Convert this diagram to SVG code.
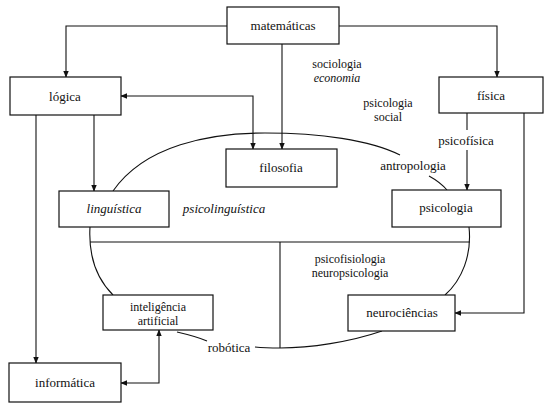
<svg xmlns="http://www.w3.org/2000/svg" width="544" height="403" viewBox="0 0 544 403">
<style>
.box{fill:#fff;stroke:#111;stroke-width:1.2}
.t{font-family:"Liberation Serif","Times New Roman","DejaVu Serif",serif;font-size:13px;fill:#111;text-anchor:middle}
.s{font-size:12px}
.i{font-style:italic}
.c{fill:none;stroke:#111;stroke-width:1.1}
</style>
<defs>
<marker id="ah" viewBox="0 0 10 10" refX="9" refY="5" markerWidth="7" markerHeight="7" markerUnits="userSpaceOnUse" orient="auto-start-reverse">
<path d="M0,1 L10,5 L0,9 Z" fill="#111"/>
</marker>
</defs>
<rect width="544" height="403" fill="#fff"/>
<g id="connectors">
<path class="c" d="M227,26 H66 V77" marker-end="url(#ah)"/>
<path class="c" d="M339,26 H497 V77" marker-end="url(#ah)"/>
<path class="c" d="M282,44 V149" marker-end="url(#ah)"/>
<path class="c" d="M121,96 H253 V149" marker-start="url(#ah)" marker-end="url(#ah)"/>
<path class="c" d="M94,115 V191" marker-end="url(#ah)"/>
<path class="c" d="M36,115 V363" marker-end="url(#ah)"/>
<path class="c" d="M467,113 V130"/>
<path class="c" d="M467,150 V190" marker-end="url(#ah)"/>
<path class="c" d="M524,113 V313 H455" marker-end="url(#ah)"/>
<path class="c" d="M121,383 H159 V330" marker-start="url(#ah)" marker-end="url(#ah)"/>
<path class="c" d="M113,191 C145,145 210,133 265,133 C320,133 370,140 400,155"/>
<path class="c" d="M429,176 Q440,182 447,190"/>
<path class="c" d="M90,227 C88,262 100,282 113,295"/>
<path class="c" d="M90,242 H470"/>
<path class="c" d="M280,242 V348"/>
<path class="c" d="M469,227 C472,255 462,280 445,295"/>
<path class="c" d="M382,331 C350,342 310,348 280,348"/>
<path class="c" d="M177,332 C190,335 200,338 207,341"/>
<path class="c" d="M255,347 C265,348 272,348 280,348"/>
</g>
<g id="matematicas"><rect class="box" x="227" y="7" width="112" height="37"/><text class="t" x="283" y="30">matemáticas</text></g>
<g id="logica"><rect class="box" x="10" y="77" width="111" height="38"/><text class="t" x="65" y="101">lógica</text></g>
<g id="fisica"><rect class="box" x="439" y="77" width="104" height="36"/><text class="t" x="491" y="100">física</text></g>
<g id="filosofia"><rect class="box" x="226" y="149" width="111" height="38"/><text class="t" x="281" y="172">filosofia</text></g>
<g id="linguistica"><rect class="box" x="59" y="191" width="110" height="36"/><text class="t i" x="114" y="213">linguística</text></g>
<g id="psicologia"><rect class="box" x="392" y="190" width="109" height="37"/><text class="t" x="446" y="212">psicologia</text></g>
<g id="inteligencia"><rect class="box" x="103" y="295" width="110" height="35"/><text class="t s" x="158" y="311">inteligência</text><text class="t s" x="158" y="325">artificial</text></g>
<g id="neurociencias"><rect class="box" x="348" y="295" width="107" height="36"/><text class="t" x="402" y="317">neurociências</text></g>
<g id="informatica"><rect class="box" x="9" y="363" width="112" height="39"/><text class="t" x="65" y="387">informática</text></g>
<g id="labels">
<text class="t s" x="337" y="68">sociologia</text>
<text class="t s i" x="337" y="82">economia</text>
<text class="t s" x="388" y="107">psicologia</text>
<text class="t s" x="388" y="121">social</text>
<text class="t" x="466" y="145">psicofísica</text>
<text class="t" x="413" y="170">antropologia</text>
<text class="t i" x="224" y="213">psicolinguística</text>
<text class="t s" x="350" y="263">psicofisiologia</text>
<text class="t s" x="350" y="277">neuropsicologia</text>
<text class="t" x="229" y="352">robótica</text>
</g>
</svg>
